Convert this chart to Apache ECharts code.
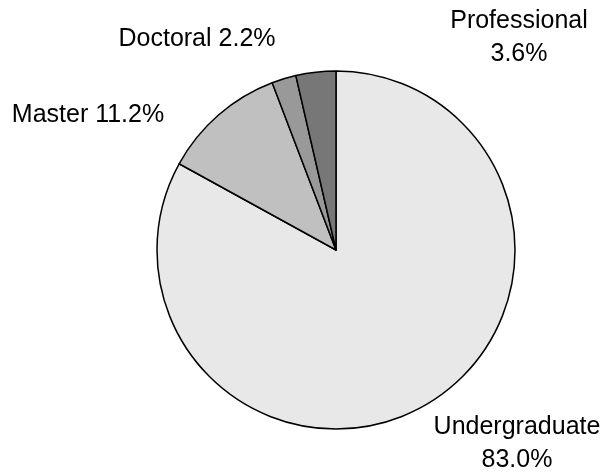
<!DOCTYPE html>
<html>
<head>
<meta charset="utf-8">
<script src="https://cdn.jsdelivr.net/npm/echarts@6/dist/echarts.min.js"></script>
<style>
  html, body { margin: 0; padding: 0; background: #fff; }
  #chart { width: 605px; height: 475px; }
</style>
</head>
<body>
<div id="chart"></div>
<script>
// degree levels, clockwise from 12 o'clock
const categories = ['Undergraduate', 'Master', 'Doctoral', 'Professional']
const shares = [83.0, 11.2, 2.2, 3.6]

const colors = ['#e8e8e8', '#c0c0c0', '#999999', '#777777']
const separators = ['\n', ' ', ' ', '\n'] // label line break or not
const labelSpots = [
  [517, 444], // Undergraduate
  [88, 115], // Master
  [197, 39], // Doctoral
  [519, 38] // Professional
]

const chart = echarts.init(document.getElementById('chart'))
chart.setOption({
  animation: false,
  series: [
    {
      type: 'pie',
      center: [336, 250],
      radius: 179,
      startAngle: 90,
      clockwise: true,
      data: categories.map((name, i) => ({
        name,
        value: shares[i],
        itemStyle: { color: colors[i] }
      })),
      itemStyle: {
        borderColor: '#000',
        borderWidth: 1.5
      },
      label: {
        show: true,
        color: '#000',
        fontFamily: 'Liberation Sans, Arial, sans-serif',
        fontSize: 25,
        lineHeight: 33,
        align: 'center',
        overflow: 'none',
        formatter(p) {
          return p.name + separators[p.dataIndex] + p.value.toFixed(1) + '%'
        }
      },
      labelLine: { show: false },
      labelLayout(params) {
        const spot = labelSpots[params.dataIndex]
        return {
          x: spot[0],
          y: spot[1],
          align: 'center',
          verticalAlign: 'middle'
        }
      },
      emphasis: { disabled: true }
    }
  ]
})
</script>
</body>
</html>
